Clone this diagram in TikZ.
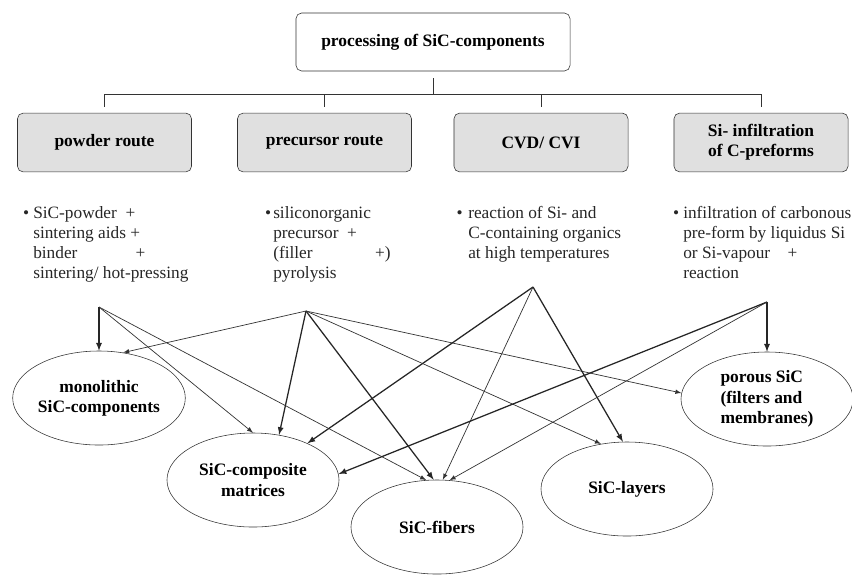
\documentclass[tikz,border=0pt]{standalone}
\usepackage{fontspec}
\setmainfont{Liberation Serif}
\usetikzlibrary{shapes.geometric}

\begin{document}
\begin{tikzpicture}[>=latex, x=0.025cm, y=-0.025cm,
  topbox/.style={draw=black!80, fill=white, rounded corners=4pt, minimum width=6.85cm, minimum height=1.45cm, inner sep=0pt, font=\fontsize{12.4}{14.2}\selectfont\bfseries},
  route/.style={draw=black!80, fill=black!12, rounded corners=4pt, minimum width=4.35cm, minimum height=1.47cm, inner sep=0pt, align=center, font=\fontsize{12.4}{14.2}\selectfont\bfseries},
  product/.style={draw=black!80, ellipse, minimum width=4.3cm, minimum height=2.35cm, inner sep=0pt, align=center, font=\fontsize{12.4}{14.5}\selectfont\bfseries},
  note/.style={anchor=north west, inner sep=0pt, align=left, text=black!85, font=\fontsize{12.3}{14.2}\selectfont},
  wire/.style={->, draw=black!80, line width=0.5pt},
  wireb/.style={->, draw=black!85, line width=0.9pt}]

\useasboundingbox (0,0) rectangle (852,574);

% tree of routes
\node[topbox] (top) at (433,42) {processing of SiC-components};

\node[route] (powder) at (104.5,142.5) {powder route};
\node[route] (precursor) at (324.5,142.5) {precursor route};
\node[route] (cvd) at (541,142.5) {CVD/ CVI};
\node[route] (infil) at (761,142.5) {Si- infiltration\\of C-preforms};

\coordinate (barL) at (104.5,94);
\coordinate (barR) at (761,94);
\draw[black!80, shorten <=5pt] (top.south) -- (top.south |- barL);
\draw[black!80] (barL) -- (barR);
\foreach \b in {powder,precursor,cvd,infil}
  \draw[black!80, shorten >=4pt] (\b.north |- barL) -- (\b.north);

% descriptions
\node[note] (powdertxt) at (33,206) {\leavevmode\llap{\textbullet\hspace{3pt}}SiC-powder\enspace+\\sintering aids +\\\hbox to 2.8cm{binder\hfill+}\\sintering/ hot-pressing};
\node[note] (prectxt) at (273,206) {\leavevmode\llap{\textbullet\hspace{1.5pt}}siliconorganic\\precursor\enspace+\\\hbox to 2.93cm{(filler\hfill+)}\\pyrolysis};
\node[note] (cvdtxt) at (468,206) {\leavevmode\llap{\textbullet\hspace{4pt}}reaction of Si- and\\C-containing organics\\at high temperatures};
\node[note] (infiltxt) at (683,206) {\leavevmode\llap{\textbullet\hspace{3pt}}infiltration of carbonous\\pre-form by liquidus Si\\or Si-vapour\quad+\\reaction};

% products
\node[product] (mono) at (99,398) {monolithic\\SiC-components};
\node[product] (comp) at (253,480) {SiC-composite\\matrices};
\node[product] (fib) at (437,527) {SiC-fibers};
\node[product] (lay) at (627,489) {SiC-layers};
\node[product, align=left] (por) at (767,399) {porous SiC\\(filters and\\membranes)};

\coordinate (s1) at (99,307);
\coordinate (s2) at (306,311);
\coordinate (s3) at (533,287);
\coordinate (s4) at (767,302);

\draw[wireb] (s1) -- (mono.north);
\draw[wire] (s1) -- (comp.north);
\draw[wire] (s1) -- (fib.103);

\draw[wire] (s2) -- (mono.62);
\draw[wireb] (s2) -- (comp.60);
\draw[wireb] (s2) -- (fib.94);
\draw[wire] (s2) -- (lay.120);
\draw[wire] (s2) -- (por.176);

\draw[wireb] (s3) -- (comp.34);
\draw[wire] (s3) -- (fib.83);
\draw[wireb] (s3) -- (lay.95);

\draw[wireb] (s4) -- (por.north);
\draw[wireb] (s4) -- (comp.4);
\draw[wire] (s4) -- (fib.75);

\end{tikzpicture}
\end{document}
